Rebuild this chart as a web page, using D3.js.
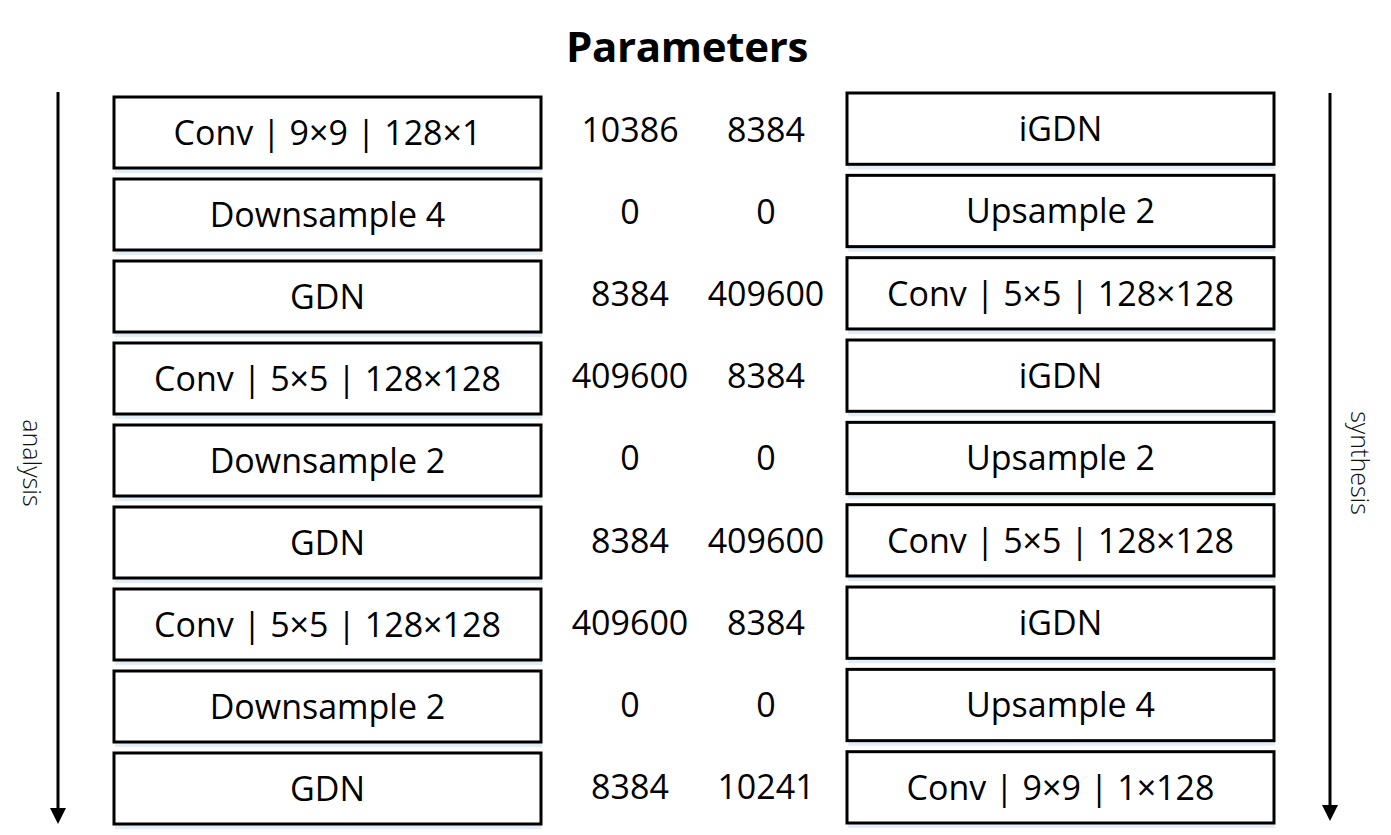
<!DOCTYPE html>
<html>
<head>
<meta charset="utf-8">
<script src="https://cdn.jsdelivr.net/npm/d3@7"></script>
<style>
  html, body { margin: 0; padding: 0; background: #fff; }
  svg { display: block; }
</style>
</head>
<body>
<svg id="chart" width="1391" height="835"></svg>
<script>
// ---- data ----
const title = "Parameters";
const analysisLayers = ["Conv | 9×9 | 128×1", "Downsample 4", "GDN", "Conv | 5×5 | 128×128", "Downsample 2", "GDN", "Conv | 5×5 | 128×128", "Downsample 2", "GDN"];
const analysisParams = [10386, 0, 8384, 409600, 0, 8384, 409600, 0, 8384];
const synthesisParams = [8384, 0, 409600, 8384, 0, 409600, 8384, 0, 10241];
const synthesisLayers = ["iGDN", "Upsample 2", "Conv | 5×5 | 128×128", "iGDN", "Upsample 2", "Conv | 5×5 | 128×128", "iGDN", "Upsample 4", "Conv | 9×9 | 1×128"];
const sideLabels = ["analysis", "synthesis"];

// ---- drawing ----
const svg = d3.select("#chart");
const FONT = "'Open Sans', sans-serif";
const idx = d3.range(analysisLayers.length);

const yLeft = d3.scaleBand().domain(idx).range([97, 824]).paddingInner(0.134).paddingOuter(0);
const yRight = d3.scaleBand().domain(idx).range([93, 823]).paddingInner(0.134).paddingOuter(0);
const boxX = { left: [114, 541], right: [847, 1274] };
const numX = d3.scalePoint().domain(["p1", "p2"]).range([630, 766]);

svg.append("text")
  .attr("x", 687).attr("y", 62)
  .attr("text-anchor", "middle")
  .style("font-family", FONT)
  .style("font-weight", "bold")
  .style("font-size", "42px")
  .style("letter-spacing", "-0.3px")
  .text(title);

function drawBoxes(labels, y, xr, cls) {
  const g = svg.append("g").attr("class", cls);
  const rows = g.selectAll("g").data(labels).join("g");
  rows.append("rect")
    .attr("x", xr[0] + 1).attr("y", (d, i) => y(i) + y.bandwidth() + 1)
    .attr("width", xr[1] - xr[0]).attr("height", 4)
    .attr("fill", "#e3edf7");
  rows.append("rect")
    .attr("x", xr[0]).attr("y", (d, i) => y(i))
    .attr("width", xr[1] - xr[0]).attr("height", y.bandwidth())
    .attr("fill", "#fff").attr("stroke", "#000").attr("stroke-width", 3);
  rows.append("text")
    .attr("x", (xr[0] + xr[1]) / 2)
    .attr("y", (d, i) => y(i) + y.bandwidth() / 2)
    .attr("dy", "0.36em")
    .attr("text-anchor", "middle")
    .style("font-family", FONT)
    .style("font-size", "34px")
    .text(d => d);
}
drawBoxes(analysisLayers, yLeft, boxX.left, "analysis");
drawBoxes(synthesisLayers, yRight, boxX.right, "synthesis");

function drawNums(vals, col) {
  svg.append("g").selectAll("text").data(vals).join("text")
    .attr("x", numX(col))
    .attr("y", (d, i) => (yLeft(i) + yRight(i)) / 2 + yLeft.bandwidth() / 2)
    .attr("dy", "0.33em")
    .attr("text-anchor", "middle")
    .style("font-family", FONT)
    .style("font-size", "34px")
    .text(d => d);
}
drawNums(analysisParams, "p1");
drawNums(synthesisParams, "p2");

// arrows
const arrows = [
  { x: 58, y1: 92, y2: 824, lx: 30, label: sideLabels[0] },
  { x: 1330, y1: 93, y2: 821, lx: 1358, label: sideLabels[1] }
];
arrows.forEach(a => {
  svg.append("line").attr("x1", a.x).attr("x2", a.x).attr("y1", a.y1).attr("y2", a.y2 - 10)
    .attr("stroke", "#000").attr("stroke-width", 3);
  svg.append("path")
    .attr("d", `M${a.x - 8},${a.y2 - 16} L${a.x + 8},${a.y2 - 16} L${a.x},${a.y2} Z`)
    .attr("fill", "#000");
  svg.append("text")
    .attr("transform", `translate(${a.lx},463) rotate(90)`)
    .attr("text-anchor", "middle")
    .attr("dy", "0.3em")
    .style("font-family", FONT)
    .style("font-weight", 300)
    .style("font-size", "25px")
    .style("fill", "#111")
    .text(a.label);
});
</script>
</body>
</html>
